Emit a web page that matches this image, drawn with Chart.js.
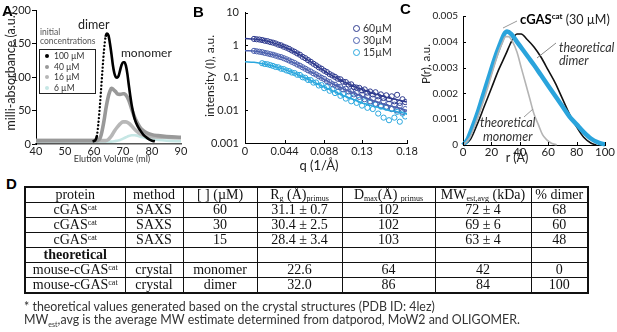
<!DOCTYPE html>
<html><head><meta charset="utf-8">
<script src="https://cdn.jsdelivr.net/npm/chart.js@4.4.1/dist/chart.umd.min.js"></script>
<style>
html,body{margin:0;padding:0;background:#fff;}
body{width:617px;height:332px;position:relative;overflow:hidden;font-family:Lato,"Open Sans",sans-serif;color:#222;}
canvas{position:absolute;top:0;}
.ab{position:absolute;white-space:nowrap;line-height:1;}
.pl{font-family:"Liberation Sans",Arial,sans-serif;font-weight:bold;font-size:15px;color:#000;}
.ct{position:absolute;width:0;height:0;display:flex;align-items:center;justify-content:center;color:#222;}
.ct span{white-space:nowrap;line-height:1;display:block;}
.ct.v span{writing-mode:vertical-rl;transform:rotate(180deg);}
#tbl{position:absolute;left:24px;top:186px;border-collapse:collapse;table-layout:fixed;font-family:"Liberation Serif","Times New Roman",serif;font-size:14px;color:#111;border:2px solid #111;}
#tbl td{border:1px solid #111;text-align:center;padding:0;height:14px;line-height:14px;overflow:hidden;white-space:nowrap;}
.sb{font-size:8px;position:relative;top:2px;line-height:0;}
.sp{font-size:8px;position:relative;top:-4px;line-height:0;}
.foot{font-size:12.4px;color:#333;font-family:Lato,"Open Sans",sans-serif;}
.it{font-style:italic;font-size:12.5px;color:#333;}
</style></head><body>
<canvas id="cA" width="200" height="175" style="left:0"></canvas>
<canvas id="cB" width="220" height="175" style="left:200px"></canvas>
<canvas id="cC" width="217" height="175" style="left:400px"></canvas>

<div class="ab pl" style="left:2px;top:3px">A</div>
<div class="ab pl" style="left:193px;top:4px">B</div>
<div class="ab pl" style="left:400px;top:1px">C</div>
<div class="ab pl" style="left:6px;top:176px">D</div>

<!-- axis titles (centre positions) -->
<div class="ct v" style="left:11px;top:71px;font-size:12.5px"><span>milli-absorbance (a.u.)</span></div>
<div class="ct" style="left:112px;top:158px;font-size:9px;color:#333"><span>Elution Volume (ml)</span></div>
<div class="ct v" style="left:210px;top:76px;font-size:12px"><span>intensity (I), a.u.</span></div>
<div class="ct" style="left:319px;top:165px;font-size:13px"><span>q (1/Å)</span></div>
<div class="ct v" style="left:426px;top:64px;font-size:11.5px"><span>P(r), a.u.</span></div>
<div class="ct" style="left:517px;top:158px;font-size:12.5px"><span>r (Å)</span></div>

<!-- panel A annotations -->
<div class="ab" style="left:78px;top:19px;font-size:12.5px;color:#222">dimer</div>
<div class="ab" style="left:121px;top:47px;font-size:12px;color:#222">monomer</div>
<div class="ab" style="left:40px;top:28px;font-size:8.5px;color:#555;line-height:9px">initial<br>concentrations</div>
<div id="legA" class="ab" style="left:39px;top:49px;width:55px;height:43px;border:1px solid #222;background:#fff;font-size:8.5px;color:#333"></div>

<!-- panel B legend -->
<div id="legB" class="ab" style="left:353px;top:23px;font-size:10.5px;color:#333"></div>

<!-- panel C annotations -->
<div class="ab" style="left:520px;top:13px;font-size:12.5px;color:#222"><b style="font-size:13px;color:#000">cGAS<span class="sp" style="font-size:8px;top:-5px">cat</span></b> (30 µM)</div>
<div class="ab it" style="left:559px;top:41px;line-height:13px">theoretical<br>dimer</div>
<div class="ab it" style="left:480px;top:116px;line-height:13.5px">theoretical<br>&nbsp;monomer</div>
<svg class="ab" width="617" height="175" style="left:0;top:0">
  <line x1="503" y1="28" x2="517" y2="21" stroke="#999" stroke-width="1"/>
  <line x1="537" y1="58" x2="556" y2="43" stroke="#888" stroke-width="1"/>
  <line x1="524" y1="117" x2="533" y2="109" stroke="#999" stroke-width="1"/>
</svg>

<table id="tbl"><colgroup><col style="width:100px"><col style="width:58px"><col style="width:74px"><col style="width:85px"><col style="width:93px"><col style="width:96px"><col style="width:57px"></colgroup><tbody id="tb"></tbody></table>

<div class="ab foot" style="left:24px;top:301px">* theoretical values generated based on the crystal structures (PDB ID: 4lez)</div>
<div class="ab foot" style="left:24px;top:314px">MW<span style="font-size:7px;position:relative;top:3px;line-height:0">est</span>,avg is the average MW estimate determined from datporod, MoW2 and OLIGOMER.</div>

<script>
// ---------- Panel A: size-exclusion chromatography ----------
const aLegendLabels = ['100 µM', '40 µM', '16 µM', '6 µM'];
const aColors = ['#000000', '#999999', '#b7b7b7', '#c6e7e5'];
const aVol100 = [59.5,60,60.5,61,61.5,62,62.5,63,63.5,64,64.5,65,65.5,66,66.5,67,67.5,68,68.5,69,69.5,70,70.5,71,71.5,72,72.5,73,73.5,74,75,76,77,78,79,80,81];
const aAbs100 = [4,4.5,6,12,30,55,85,115,142,160,165,162,150,135,118,106,100,99,102,110,118,122,122,117,105,88,72,58,47,38,27,20,14,10,7,5,4];
const aVol40 = [40,45,50,55,60,61,61.5,62,62.5,63,63.5,64,64.5,65,65.5,66,66.5,67,67.5,68,69,70,70.5,71,71.5,72,72.5,73,74,75,76,77,78,80,82,85,88,90];
const aAbs40 = [5,5,5,5,5,5,6,8,14,24,36,50,62,72,79,83,82,80,78,75,74,75,75,73,70,65,59,52,40,31,24,20,17,14,12.5,11,10.5,10];
const aVol16 = [40,50,60,64,65,66,67,68,69,70,71,72,73,74,75,76,77,78,80,85,90];
const aAbs16 = [5,5,5,5,7,12,19,25,30,33,33,31,27,22,18,15,13,12,11,10,9];
const aVol6 = [40,50,60,66,67,68,69,70,71,72,73,74,75,76,77,78,80,85,90];
const aAbs6 = [3.5,3.5,3.5,3.5,4,5,6,8,10,12,13,13,12.5,11,10,8.5,7,5,4];
const aXTicks = [40,50,60,70,80,90];
const aYTicks = [0,50,100,150,200];

// ---------- Panel B: SAXS scattering ----------
const bLegendLabels = ['60µM', '30µM', '15µM'];
const bColors = ['#2e3a8e', '#4b60ae', '#2aa7de'];
const bFitQ = [0,0.01,0.02,0.03,0.04,0.05,0.06,0.07,0.08,0.09,0.10,0.11,0.12,0.13,0.14,0.15,0.16,0.17,0.18];
const bFit60 = [1.6,1.55,1.42,1.22,0.98,0.74,0.52,0.35,0.23,0.15,0.105,0.075,0.056,0.044,0.035,0.029,0.024,0.021,0.018];
const bFit30 = [0.68,0.66,0.6,0.52,0.43,0.33,0.24,0.17,0.12,0.083,0.06,0.045,0.035,0.027,0.021,0.017,0.014,0.012,0.01];
const bFit15 = [0.31,0.3,0.27,0.235,0.195,0.155,0.12,0.09,0.066,0.049,0.037,0.028,0.022,0.017,0.014,0.012,0.01,0.009,0.008];
const bQ = [0.010,0.013,0.016,0.019,0.022,0.025,0.028,0.031,0.034,0.037,0.040,0.043,0.046,0.049,0.052,0.055,0.058,0.061,0.064,0.067,0.070,0.073,0.076,0.079,0.082,0.085,0.088,0.091,0.094,0.097,0.100,0.103,0.106,0.109,0.112,0.115,0.118,0.121,0.124,0.127,0.130,0.133,0.136,0.139,0.142,0.145,0.148,0.151,0.154,0.157,0.160,0.163,0.166,0.169,0.172,0.175,0.178];
const bI60 = [1.56,1.52,1.49,1.44,1.37,1.33,1.25,1.2,1.13,1.04,0.99,0.9,0.84,0.77,0.69,0.63,0.56,0.51,0.44,0.4,0.35,0.31,0.27,0.24,0.21,0.19,0.165,0.15,0.13,0.118,0.107,0.094,0.09,0.076,0.074,0.062,0.063,0.052,0.05,0.049,0.041,0.044,0.035,0.038,0.031,0.036,0.027,0.031,0.024,0.029,0.022,0.027,0.019,0.03,0.017,0.022,0.018];
const bI30 = [0.67,0.65,0.63,0.61,0.58,0.56,0.53,0.51,0.48,0.45,0.43,0.4,0.37,0.34,0.31,0.285,0.255,0.235,0.21,0.19,0.17,0.156,0.138,0.126,0.112,0.1,0.092,0.079,0.074,0.064,0.061,0.053,0.052,0.044,0.046,0.038,0.039,0.031,0.034,0.026,0.03,0.022,0.027,0.019,0.023,0.016,0.021,0.014,0.019,0.013,0.016,0.011,0.015,0.01,0.014,0.009,0.011];
const bQ15 = bQ.slice(3);
const bI15 = [0.28,0.265,0.26,0.245,0.232,0.215,0.21,0.19,0.185,0.168,0.16,0.145,0.14,0.124,0.122,0.104,0.1,0.086,0.085,0.071,0.072,0.058,0.06,0.048,0.052,0.04,0.044,0.034,0.037,0.028,0.032,0.023,0.028,0.019,0.025,0.017,0.021,0.014,0.019,0.012,0.017,0.011,0.015,0.008,0.013,0.006,0.012,0.005,0.011,0.006,0.009,0.0045,0.008,0.0065];
const bXTicks = [0,0.044,0.088,0.13,0.18];
const bXTickLabels = ['0','0.044','0.088','0.13','0.18'];
const bYTicks = [0.001,0.01,0.1,1,10];
const bYTickLabels = ['0.001','0.01','0.1','1','10'];

// ---------- Panel C: pair-distance distribution ----------
const cR30 = [0,3,6,10,14,18,22,26,29,31,34,38,42,46,50,55,60,65,70,75,80,85,90,95,100];
const cP30 = [0,0.0002,0.0006,0.0012,0.0019,0.0026,0.0033,0.0039,0.0043,0.0044,0.0043,0.004,0.0037,0.0034,0.0031,0.0027,0.0023,0.0019,0.0015,0.0011,0.0008,0.0005,0.00025,0.0001,0.00002];
const cRDimer = [0,5,10,15,20,25,30,34,38,41,45,50,55,60,65,70,75,80,85,90,94];
const cPDimer = [0,0.0002,0.0008,0.0015,0.0022,0.0029,0.0035,0.004,0.0043,0.0043,0.0041,0.0038,0.0034,0.0029,0.0024,0.0018,0.0012,0.0007,0.0003,0.00008,0];
const cRMono = [0,5,10,15,20,25,28,30,32,35,38,41,44,47,50,53,56,59,62,66];
const cPMono = [0,0.0003,0.001,0.0018,0.0027,0.0036,0.004,0.0042,0.0042,0.004,0.0036,0.003,0.0024,0.0018,0.0012,0.0008,0.0004,0.0002,0.00008,0];
const cXTicks = [0,20,40,60,80,100];
const cYTicks = [0,0.001,0.002,0.003,0.004,0.005];

// ---------- Table D ----------
const tHeader = ['protein','method','[ ] (µM)','R<span class="sb">g</span> (Å)<span class="sb">primus</span>','D<span class="sb">max</span>(Å) <span class="sb">primus</span>','MW<span class="sb">est,avg</span> (kDa)','% dimer'];
const tProtein = ['cGAS^cat','cGAS^cat','cGAS^cat','theoretical','mouse-cGAS^cat','mouse-cGAS^cat'];
const tMethod = ['SAXS','SAXS','SAXS','','crystal','crystal'];
const tConc = ['60','30','15','','monomer','dimer'];
const tRg = ['31.1 ± 0.7','30.4 ± 2.5','28.4 ± 3.4','','22.6','32.0'];
const tDmax = ['102','102','103','','64','86'];
const tMW = ['72 ± 4','69 ± 6','63 ± 4','','42','84'];
const tDimer = ['68','60','48','','0','100'];

const FONT = 'Lato, "Open Sans", sans-serif';
Chart.defaults.font.family = FONT;
Chart.defaults.color = '#222';

// table
(function(){
  const tb = document.getElementById('tb');
  let h = '<tr>' + tHeader.map(c => '<td>' + c + '</td>').join('') + '</tr>';
  for (let i = 0; i < tProtein.length; i++) {
    let p = tProtein[i].replace('^cat', '<span class="sp">cat</span>');
    if (tProtein[i] === 'theoretical') p = '<b>' + p + '</b>';
    h += '<tr>' + [p, tMethod[i], tConc[i], tRg[i], tDmax[i], tMW[i], tDimer[i]].map(c => '<td>' + c + '</td>').join('') + '</tr>';
  }
  tb.innerHTML = h;
})();

// legends
(function(){
  const la = document.getElementById('legA');
  const tops = [2, 12.5, 23, 33.5];
  la.innerHTML = aLegendLabels.map((l, i) =>
    '<div style="position:absolute;left:5px;top:' + tops[i] + 'px;white-space:nowrap"><span style="display:inline-block;width:4px;height:4px;border-radius:50%;background:' + aColors[i] + ';margin-right:5px;vertical-align:1px"></span>' + l + '</div>').join('');
  const lb = document.getElementById('legB');
  lb.innerHTML = bLegendLabels.map((l, i) =>
    '<div style="position:absolute;left:0;top:' + (i * 12) + 'px;white-space:nowrap"><span style="display:inline-block;width:5px;height:5px;border-radius:50%;border:1.5px solid ' + bColors[i] + ';margin-right:3px;vertical-align:0px"></span>' + l + '</div>').join('');
})();

const zip = (xs, ys) => xs.map((x, i) => ({x: x, y: ys[i]}));

const inwardTicks = {
  id: 'inwardTicks',
  afterDraw(chart, args, o) {
    const {ctx, chartArea: a} = chart;
    const xs = chart.scales.x, ys = chart.scales.y;
    ctx.save();
    ctx.strokeStyle = '#000'; ctx.lineWidth = 1;
    ctx.beginPath();
    xs.ticks.forEach(t => { const p = Math.round(xs.getPixelForValue(t.value)) + 0.5; ctx.moveTo(p, a.bottom); ctx.lineTo(p, a.bottom - o.len); });
    ys.ticks.forEach(t => { const p = Math.round(ys.getPixelForValue(t.value)) + 0.5; ctx.moveTo(a.left, p); ctx.lineTo(a.left + o.len, p); });
    ctx.stroke();
    ctx.restore();
  }
};

function fixW(w) { return s => { s.width = w; }; }
function fixH(h) { return s => { s.height = h; }; }
const steepRise = c => c.p1.y < c.p0.y && (c.p0.y - c.p1.y) > 6 * Math.abs(c.p1.x - c.p0.x);

// Panel A chart
new Chart(document.getElementById('cA'), {
  type: 'line',
  data: {
    datasets: [
      { data: zip(aVol100, aAbs100), borderColor: aColors[0], borderWidth: 2.6, pointRadius: 0, cubicInterpolationMode: 'monotone',
        segment: {
          borderDash: c => steepRise(c) ? [0.01, 3.6] : undefined,
          borderCapStyle: c => steepRise(c) ? 'round' : 'butt',
          borderWidth: c => steepRise(c) ? 2.4 : 2.6
        } },
      { data: zip(aVol40, aAbs40), borderColor: aColors[1], borderWidth: 3.6, pointRadius: 0, cubicInterpolationMode: 'monotone' },
      { data: zip(aVol16, aAbs16), borderColor: aColors[2], borderWidth: 3.6, pointRadius: 0, cubicInterpolationMode: 'monotone' },
      { data: zip(aVol6, aAbs6), borderColor: aColors[3], borderWidth: 2.6, pointRadius: 0, cubicInterpolationMode: 'monotone' }
    ]
  },
  options: {
    responsive: false, animation: false, devicePixelRatio: 1,
    layout: { padding: { left: 0, right: 19, top: 10, bottom: 0 } },
    plugins: { legend: { display: false }, tooltip: { enabled: false } },
    scales: {
      x: { type: 'linear', min: 40, max: 90, afterFit: fixH(31),
        afterBuildTicks: s => { s.ticks = aXTicks.map(v => ({value: v})); },
        grid: { display: false, drawTicks: false }, border: { color: '#555', width: 1.5 },
        ticks: { font: { size: 11 }, padding: 1, color: '#222', maxRotation: 0, autoSkip: false } },
      y: { type: 'linear', min: 0, max: 200, afterFit: fixW(36),
        afterBuildTicks: s => { s.ticks = aYTicks.map(v => ({value: v})); },
        grid: { display: true, drawOnChartArea: false, drawTicks: true, tickLength: 4, color: '#000' }, border: { color: '#000', width: 1 },
        ticks: { font: { size: 11 }, padding: 1, color: '#222' } }
    }
  }
});

// Panel B chart
new Chart(document.getElementById('cB'), {
  type: 'scatter',
  data: {
    datasets: [
      { type: 'line', data: zip(bFitQ, bFit60), borderColor: bColors[0], borderWidth: 1.5, pointRadius: 0, tension: 0.4 },
      { type: 'line', data: zip(bFitQ, bFit30), borderColor: bColors[1], borderWidth: 1.5, pointRadius: 0, tension: 0.4 },
      { type: 'line', data: zip(bFitQ, bFit15), borderColor: bColors[2], borderWidth: 1.5, pointRadius: 0, tension: 0.4 },
      { data: zip(bQ, bI60), borderColor: bColors[0], backgroundColor: 'rgba(0,0,0,0)', pointRadius: 2.6, borderWidth: 1 },
      { data: zip(bQ, bI30), borderColor: bColors[1], backgroundColor: 'rgba(0,0,0,0)', pointRadius: 2.6, borderWidth: 1 },
      { data: zip(bQ15, bI15), borderColor: bColors[2], backgroundColor: 'rgba(0,0,0,0)', pointRadius: 2.6, borderWidth: 1 }
    ]
  },
  plugins: [inwardTicks],
  options: {
    responsive: false, animation: false, devicePixelRatio: 1,
    layout: { padding: { left: 0, right: 13, top: 11, bottom: 0 } },
    plugins: { legend: { display: false }, tooltip: { enabled: false }, inwardTicks: { len: 3 } },
    scales: {
      x: { type: 'linear', min: 0, max: 0.18, afterFit: fixH(32),
        afterBuildTicks: s => { s.ticks = bXTicks.map(v => ({value: v})); },
        grid: { display: false, drawTicks: false }, border: { color: '#000', width: 1 },
        ticks: { font: { size: 11 }, padding: 2, color: '#222', maxRotation: 0, autoSkip: false, callback: (v, i) => bXTickLabels[i] } },
      y: { type: 'logarithmic', min: 0.001, max: 10, afterFit: fixW(45),
        afterBuildTicks: s => { s.ticks = bYTicks.map(v => ({value: v})); },
        grid: { display: false, drawTicks: false }, border: { color: '#000', width: 1 },
        ticks: { font: { size: 11 }, padding: 6, color: '#222', autoSkip: false, callback: (v, i) => bYTickLabels[i] } }
    }
  }
});

// Panel C chart
new Chart(document.getElementById('cC'), {
  type: 'line',
  data: {
    datasets: [
      { data: zip(cRMono, cPMono), borderColor: '#b4b4b4', borderWidth: 1.6, pointRadius: 0, cubicInterpolationMode: 'monotone' },
      { data: zip(cR30, cP30), borderColor: '#2aa4dc', borderWidth: 4.5, pointRadius: 0, cubicInterpolationMode: 'monotone' },
      { data: zip(cRDimer, cPDimer), borderColor: '#111', borderWidth: 1.6, pointRadius: 0, cubicInterpolationMode: 'monotone' }
    ]
  },
  plugins: [inwardTicks],
  options: {
    responsive: false, animation: false, devicePixelRatio: 1,
    layout: { padding: { left: 0, right: 12, top: 16, bottom: 0 } },
    plugins: { legend: { display: false }, tooltip: { enabled: false }, inwardTicks: { len: 3 } },
    scales: {
      x: { type: 'linear', min: 0, max: 100, afterFit: fixH(30),
        afterBuildTicks: s => { s.ticks = cXTicks.map(v => ({value: v})); },
        grid: { display: false, drawTicks: false }, border: { color: '#000', width: 1 },
        ticks: { font: { size: 11.5 }, padding: 0, color: '#222', maxRotation: 0, autoSkip: false } },
      y: { type: 'linear', min: 0, max: 0.005, afterFit: fixW(63),
        afterBuildTicks: s => { s.ticks = cYTicks.map(v => ({value: v})); },
        grid: { display: false, drawTicks: false }, border: { color: '#000', width: 1 },
        ticks: { font: { size: 10 }, padding: 5, color: '#222', autoSkip: false, callback: v => String(v) } }
    },
    clip: false
  }
});
</script>
</body></html>
